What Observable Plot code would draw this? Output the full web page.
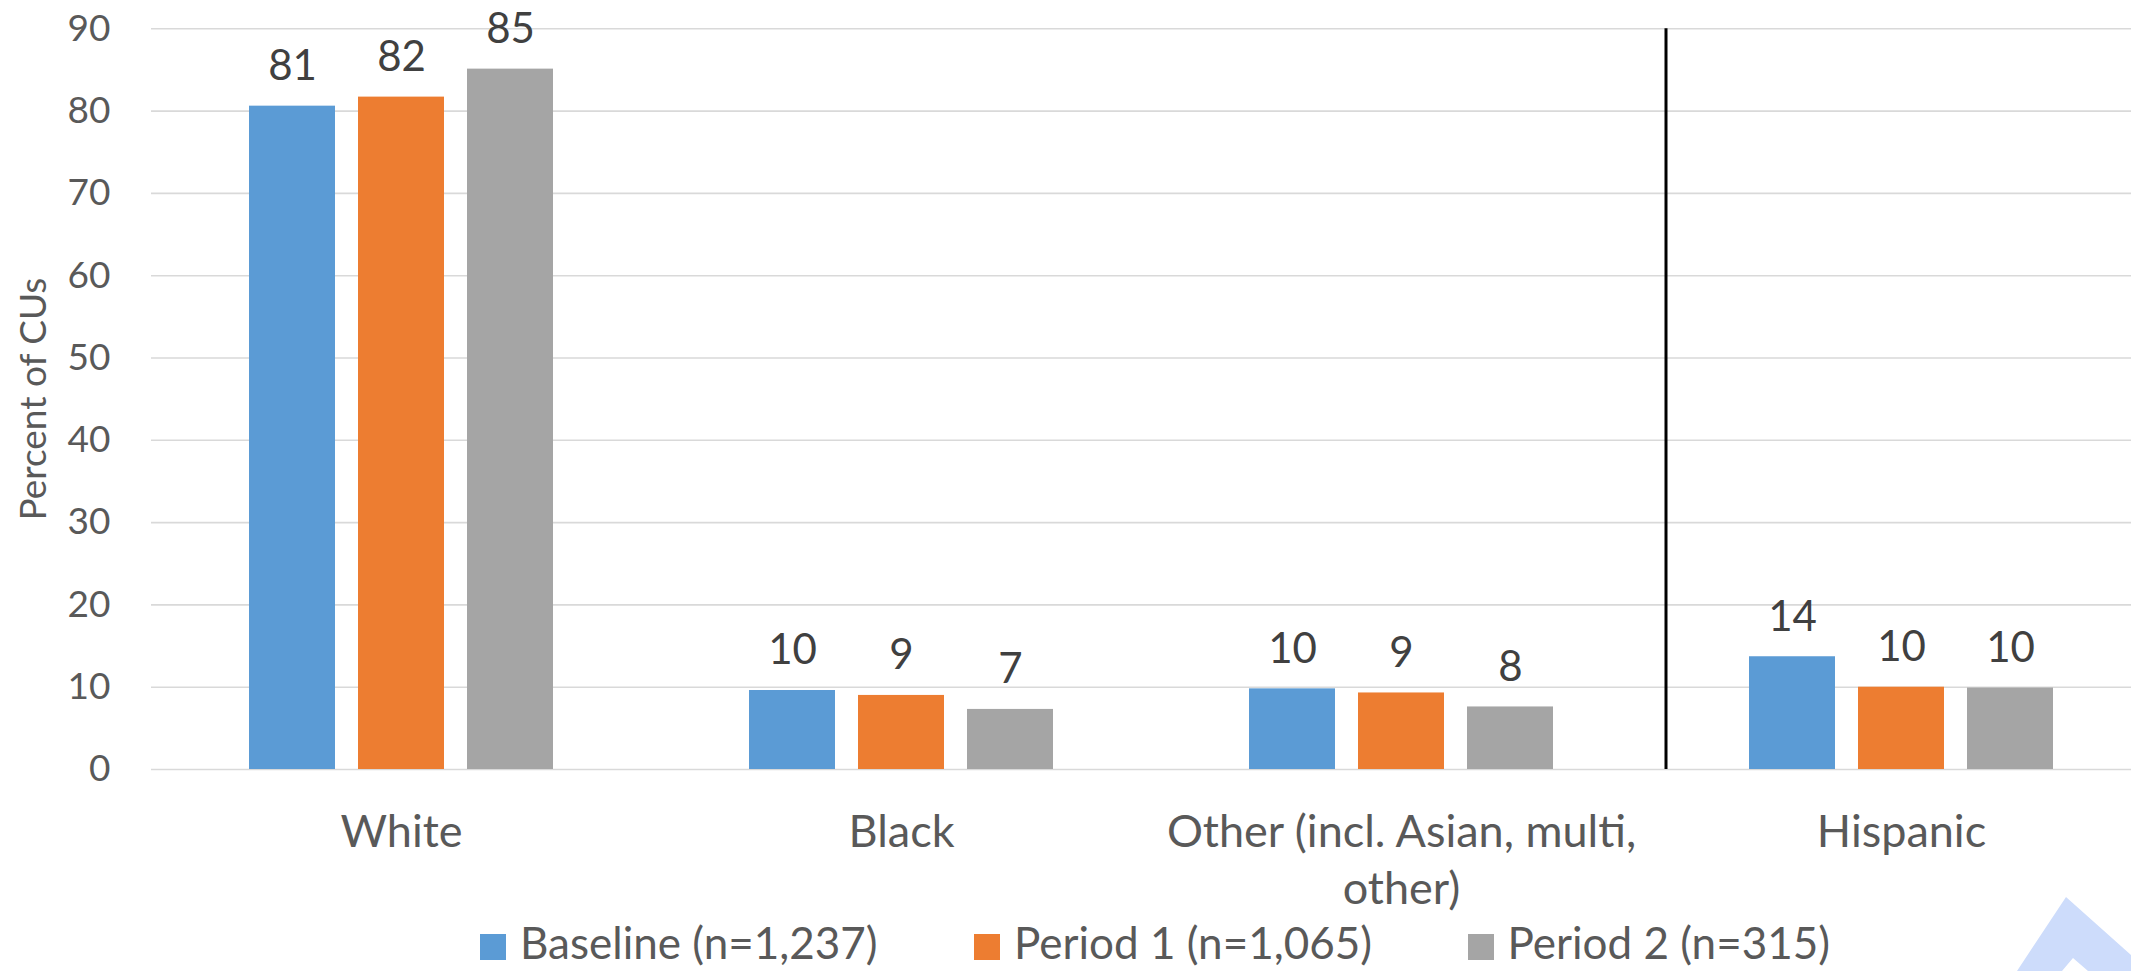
<!DOCTYPE html>
<html>
<head>
<meta charset="utf-8">
<script src="https://cdn.jsdelivr.net/npm/d3@7"></script>
<script src="https://cdn.jsdelivr.net/npm/@observablehq/plot@0.6"></script>
<style>
  html, body { margin: 0; padding: 0; background: #fff; }
  #wrap { position: relative; width: 2131px; height: 971px; overflow: hidden; font-family: Lato, sans-serif; background: #fff; }
  #legend { position: relative; height: 53px; }
  .item { position: absolute; top: 0; height: 53px; }
  .sw { position: absolute; left: 0; top: 16px; width: 26px; height: 26px; }
  .lab { position: absolute; left: 40px; top: -2px; font-size: 44px; line-height: 53px; color: #595959; white-space: nowrap; }
  #mark { position: absolute; left: 2000px; top: 890px; width: 131px; height: 81px; background: #cddcfb;
    clip-path: polygon(17px 81px, 66px 7px, 131px 65px, 131px 81px, 88px 81px, 73px 68px, 62px 81px); }
</style>
</head>
<body>
<div id="wrap">
  <div id="chart"></div>
  <div id="legend"></div>
  <div id="mark"></div>
</div>
<script>
// ---- data ----
const categories = ["White", "Black", "Other (incl. Asian, multi,\nother)", "Hispanic"];
const series = ["Baseline (n=1,237)", "Period 1 (n=1,065)", "Period 2 (n=315)"];
const baseline = [80.6, 9.6, 9.8, 13.7];
const period1 = [81.7, 9.0, 9.3, 10.0];
const period2 = [85.1, 7.3, 7.6, 9.9];
const yTicks = [0, 10, 20, 30, 40, 50, 60, 70, 80, 90];
const colors = ["#5B9BD5", "#ED7D31", "#A5A5A5"];
const separators = [{category: "Hispanic", series: series[0]}];

const values = [baseline, period1, period2];
const rows = categories.flatMap((c, i) => series.map((s, j) => ({category: c, series: s, value: values[j][i]})));
const fmt = d3.format(".0f");

const chart = Plot.plot({
  width: 2131,
  height: 918,
  marginTop: 28.3,
  marginBottom: 149,
  marginLeft: 150,
  marginRight: 0,
  style: {fontFamily: "Lato, sans-serif", background: "white"},
  fx: {domain: categories, range: [150, 2151], padding: 0, axis: null},
  x: {domain: series, paddingInner: 0.209, paddingOuter: 0.88, axis: null},
  y: {domain: [0, 90], axis: null},
  color: {domain: series, range: colors},
  marks: [
    Plot.gridY(yTicks, {stroke: "#d9d9d9", strokeOpacity: 1, strokeWidth: 1.6}),
    Plot.barY(rows, {fx: "category", x: "series", y: "value", fill: "series"}),
    Plot.text(rows, {fx: "category", x: "series", y: "value", text: d => fmt(d.value),
      lineAnchor: "bottom", dy: -26, fontSize: 42, fill: "#404040"}),
    Plot.ruleX(separators, {fx: "category", x: "series", y1: 0, y2: 90, stroke: "black", strokeWidth: 3, dx: -126.5}),
    Plot.axisY(yTicks, {anchor: "left", tickSize: 0, tickPadding: 41, fontSize: 37, fill: "#595959",
      label: "Percent of CUs", labelArrow: "none", labelAnchor: "center", labelOffset: 132}),
    Plot.axisFx({anchor: "bottom", tickSize: 0, tickPadding: 38, fontSize: 45, lineHeight: 1.25, fill: "#595959", label: null})
  ]
});
document.getElementById("chart").appendChild(chart);

// legend below the chart
const legend = document.getElementById("legend");
const starts = [480, 974, 1467.5];
series.forEach((s, i) => {
  const item = document.createElement("div");
  item.className = "item";
  item.style.left = starts[i] + "px";
  const sw = document.createElement("div");
  sw.className = "sw";
  sw.style.background = colors[i];
  const lab = document.createElement("span");
  lab.className = "lab";
  lab.textContent = s;
  item.appendChild(sw);
  item.appendChild(lab);
  legend.appendChild(item);
});
</script>
</body>
</html>
